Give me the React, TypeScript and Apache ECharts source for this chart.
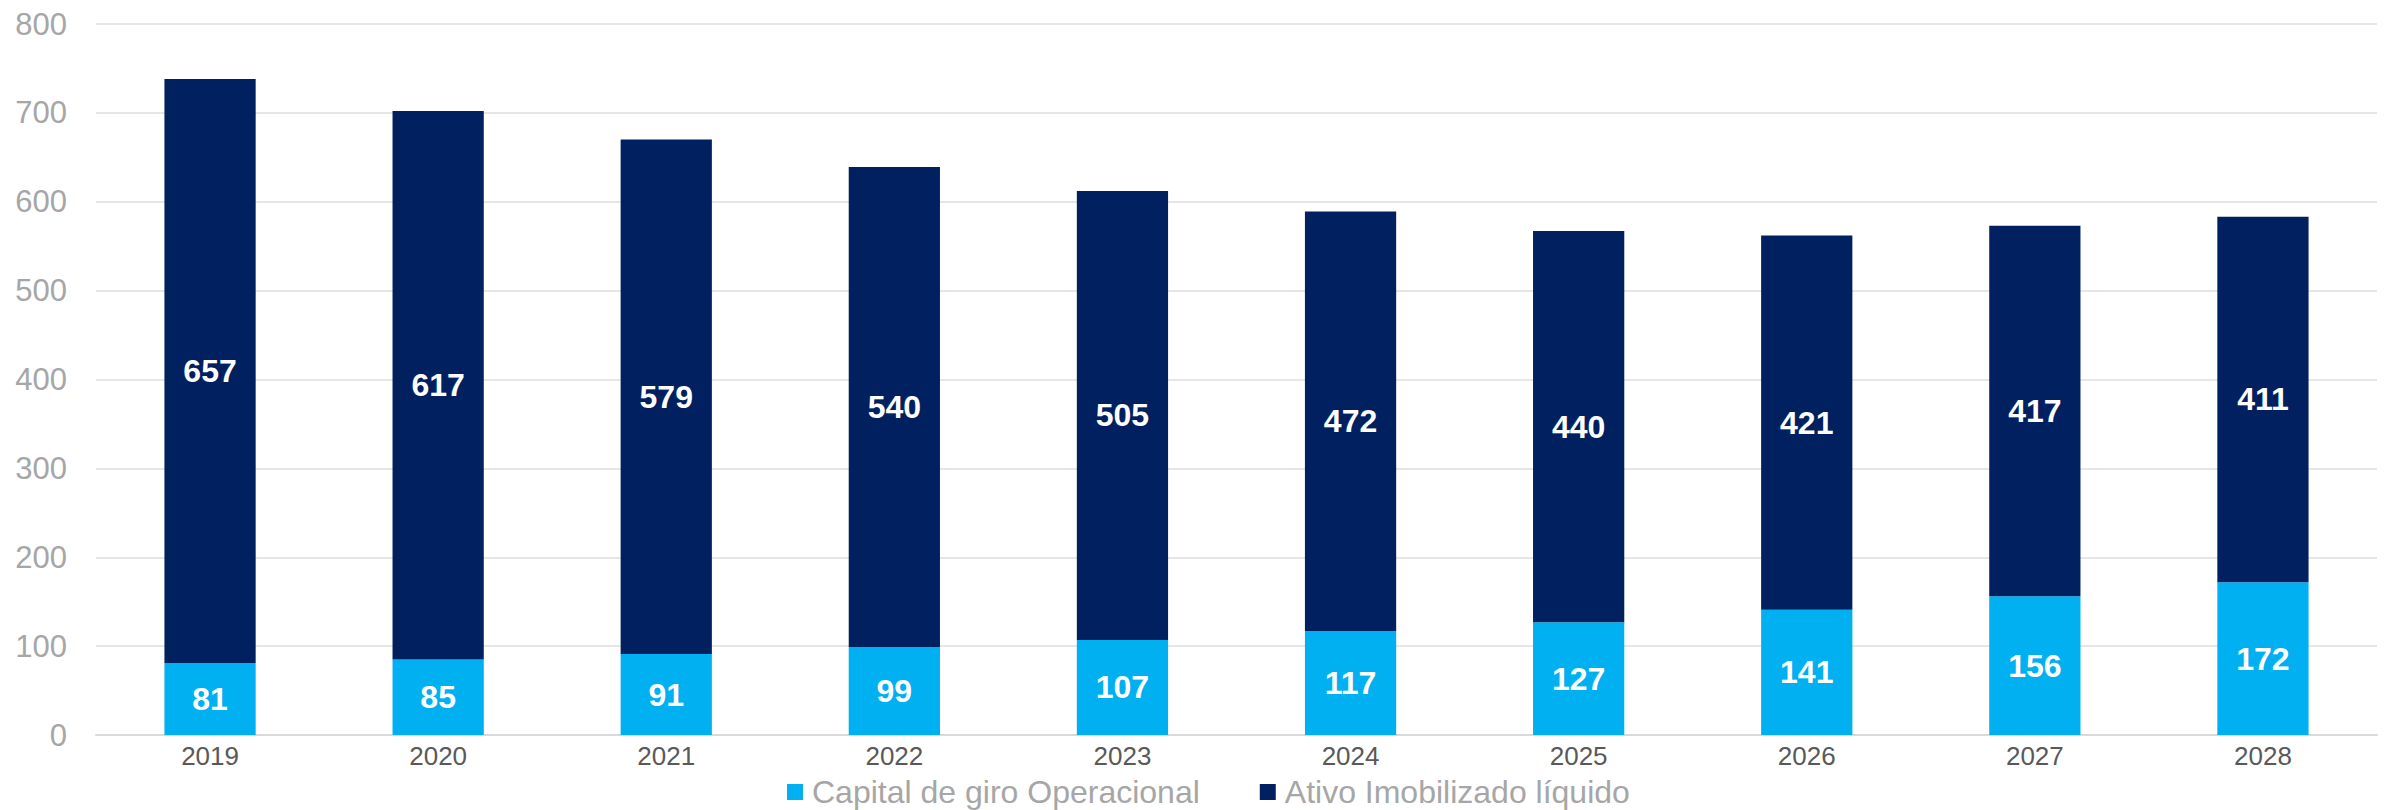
import React, { useEffect, useRef } from "react";
import * as echarts from "echarts";

const categories = ["2019", "2020", "2021", "2022", "2023", "2024", "2025", "2026", "2027", "2028"];
const capitalGiro = [81, 85, 91, 99, 107, 117, 127, 141, 156, 172];
const ativoImobilizado = [657, 617, 579, 540, 505, 472, 440, 421, 417, 411];
const yTicks = { min: 0, max: 800, interval: 100 };

const FONT = "'Liberation Sans', Arial, sans-serif";

export default function App() {
  const ref = useRef<HTMLDivElement>(null);
  useEffect(() => {
    document.body.style.margin = "0";
    const chart = echarts.init(ref.current!, null, { renderer: "svg" });
    const labelStyle = {
      show: true,
      position: "inside" as const,
      color: "#ffffff",
      fontWeight: "bold" as const,
      fontSize: 32,
      fontFamily: FONT,
    };
    chart.setOption({
      animation: false,
      textStyle: { fontFamily: FONT },
      grid: { left: 96, right: 8, top: 24, bottom: 75, containLabel: false },
      legend: {
        left: 787,
        top: 776,
        padding: 0,
        itemWidth: 16,
        itemHeight: 16,
        itemGap: 60,
        icon: "rect",
        textStyle: { color: "#a6a6a6", fontSize: 32, fontFamily: FONT, padding: [0, 0, 0, 4] },
        data: ["Capital de giro Operacional", "Ativo Imobilizado líquido"],
      },
      xAxis: {
        type: "category",
        data: categories,
        axisLine: { show: true, lineStyle: { color: "#d9d9d9", width: 2 } },
        axisTick: { show: false },
        axisLabel: { color: "#595959", fontSize: 26, fontFamily: FONT, margin: 8 },
      },
      yAxis: {
        type: "value",
        min: yTicks.min,
        max: yTicks.max,
        interval: yTicks.interval,
        axisLine: { show: false },
        axisTick: { show: false },
        splitLine: { lineStyle: { color: "#e6e6e6", width: 2 } },
        axisLabel: { color: "#a6a6a6", fontSize: 31, fontFamily: FONT, margin: 29 },
      },
      series: [
        {
          name: "Capital de giro Operacional",
          type: "bar",
          stack: "total",
          barWidth: "40%",
          data: capitalGiro,
          itemStyle: { color: "#00B0F0" },
          label: labelStyle,
        },
        {
          name: "Ativo Imobilizado líquido",
          type: "bar",
          stack: "total",
          barWidth: "40%",
          data: ativoImobilizado,
          itemStyle: { color: "#002060" },
          label: labelStyle,
        },
      ],
    });
    return () => chart.dispose();
  }, []);
  return <div ref={ref} style={{ width: 2385, height: 810 }} />;
}
